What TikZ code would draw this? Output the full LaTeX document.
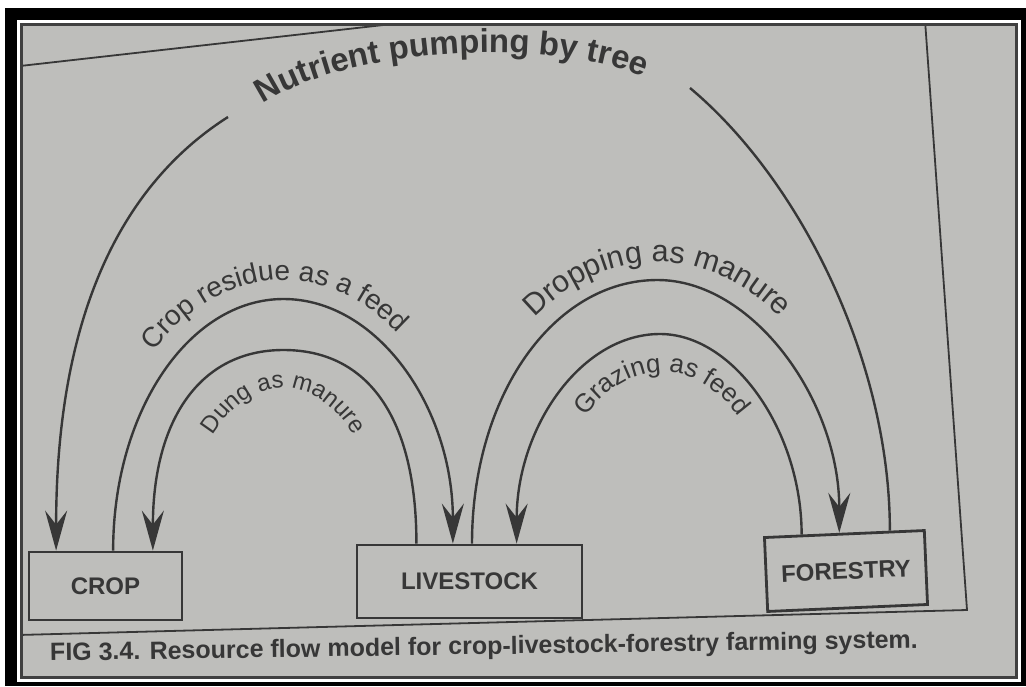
\documentclass[tikz,border=0pt]{standalone}
\usepackage{fontspec}
\setmainfont{Liberation Sans}
\usetikzlibrary{arrows.meta,decorations.text,calc}
\definecolor{paper}{RGB}{190,190,187}
\definecolor{ink}{RGB}{55,55,55}
\newcommand{\nutfont}{\fontsize{33pt}{33pt}\selectfont\bfseries\color{ink}}
\newcommand{\resfont}{\fontsize{28pt}{28pt}\selectfont\color{ink}}
\newcommand{\dungfont}{\fontsize{24pt}{24pt}\selectfont\color{ink}}
\newcommand{\dropfont}{\fontsize{30.5pt}{30.5pt}\selectfont\color{ink}}
\newcommand{\grazfont}{\fontsize{26pt}{26pt}\selectfont\color{ink}}
\begin{document}
\begin{tikzpicture}[x=1pt,y=-1pt,
  flow/.style={draw=ink, line width=2.4pt},
  arr/.style={flow, -{Stealth[length=40pt,width=22pt,inset=14pt]}},
  boxnode/.style={draw=ink, line width=2.8pt, fill=paper, inner sep=0pt,
    font=\fontsize{24pt}{24pt}\selectfont\bfseries, text=ink},
  pageline/.style={draw=ink, line width=1.8pt},
  arctext/.style={decorate, decoration={text along path, text align=center, text={#1}}}]
\useasboundingbox (0,0) rectangle (1026,686);
\fill[white] (0,0) rectangle (1026,686);
\fill[black] (5,8) rectangle (1026,686);
\fill[white] (17,20) rectangle (1021,682);
\fill[paper] (20,23) rectangle (1018,679);
\begin{scope}
  \clip (20,23) rectangle (1018,679);
  \draw[pageline] (20,66) -- (410,22);
  \draw[pageline] (925,20) -- (967,610) -- (18,635);
\end{scope}
\draw[black!75, line width=3pt] (21.5,24.5) rectangle (1016.5,677.5);

% boxes
\node[boxnode, minimum width=153pt, minimum height=68pt] (crop) at (105.5,586) {CROP};
\node[boxnode, minimum width=225pt, minimum height=73pt] (live) at (469.5,581.5) {LIVESTOCK};
\node[boxnode, minimum width=160pt, minimum height=74pt, rotate=2.5] (forest) at (846,571) {FORESTRY};

% caption
\node[font=\fontsize{25pt}{25pt}\selectfont\bfseries, text=ink, rotate=0.85, inner sep=0pt] (cap) at (484,648)
  {FIG 3.4. Resource flow model for crop-livestock-forestry farming system.};

% attachment points
\coordinate (c1) at ($(crop.north west)!0.183!(crop.north east)$);
\coordinate (c2) at ($(crop.north west)!0.549!(crop.north east)$);
\coordinate (c3) at ($(crop.north west)!0.804!(crop.north east)$);
\coordinate (l1) at ($(live.north west)!0.267!(live.north east)$);
\coordinate (l2) at ($(live.north west)!0.427!(live.north east)$);
\coordinate (l3) at ($(live.north west)!0.511!(live.north east)$);
\coordinate (l4) at ($(live.north west)!0.707!(live.north east)$);
\coordinate (f1) at ($(forest.north west)!0.2375!(forest.north east)$);
\coordinate (f2) at ($(forest.north west)!0.469!(forest.north east)$);
\coordinate (f3) at ($(forest.north west)!0.78!(forest.north east)$);
\coordinate (n1) at (228,117);
\coordinate (n2) at (690,88);
\coordinate (p1) at (283.5,299);
\coordinate (p2) at (283.5,350);
\coordinate (p3) at (657.5,280);
\coordinate (p4) at (660,334);

% nutrient pumping by tree
\draw[flow] (f3) .. controls +(0,-170) and +(110,92) .. (n2);
\draw[arr] (n1) .. controls +(-96,61) and +(0,-252) .. (c1);
% crop residue as a feed
\draw[arr] (c2) .. controls +(0,-140) and +(-94,0) .. (p1) .. controls +(94,0) and +(0,-136) .. (l2);
% dung as manure
\draw[arr] (l1) .. controls +(0,-125) and +(85,0) .. (p2) .. controls +(-84,0) and +(0,-130) .. (c3);
% dropping as manure
\draw[arr] (l3) .. controls +(0,-148) and +(-104,0) .. (p3) .. controls +(95,0) and +(0,-133) .. (f2);
% grazing as feed
\draw[arr] (f1) .. controls +(0,-103) and +(74,0) .. (p4) .. controls +(-79,0) and +(0,-116) .. (l4);

% labels along the arcs
\path[arctext={|\nutfont|Nutrient pumping by tree}] (238,126) .. controls (308,40) and (600,30) .. (672,94);
\path[arctext={|\resfont|Crop residue as a feed}] (90.5,576) -- (90.5,552) .. controls (90.5,402) and (176.9,280) .. (283.5,280) .. controls (390.1,280) and (476.5,402) .. (476.5,552);
\path[arctext={|\dungfont|Dung as manure}] (183.5,550) .. controls (183.5,460.5) and (228.3,388) .. (283.5,388) .. controls (338.7,388) and (383.5,460.5) .. (383.5,550);
\path[arctext={|\dropfont|Dropping as manure}] (452.5,540) .. controls (452.5,386.5) and (544.3,262) .. (657.5,262) .. controls (770.7,262) and (862.5,386.5) .. (862.5,540);
\path[arctext={|\grazfont|Grazing as feed}] (550,537) .. controls (550,446) and (600.1,372) .. (662,372) .. controls (723.9,372) and (774,446) .. (774,537);
\end{tikzpicture}
\end{document}
